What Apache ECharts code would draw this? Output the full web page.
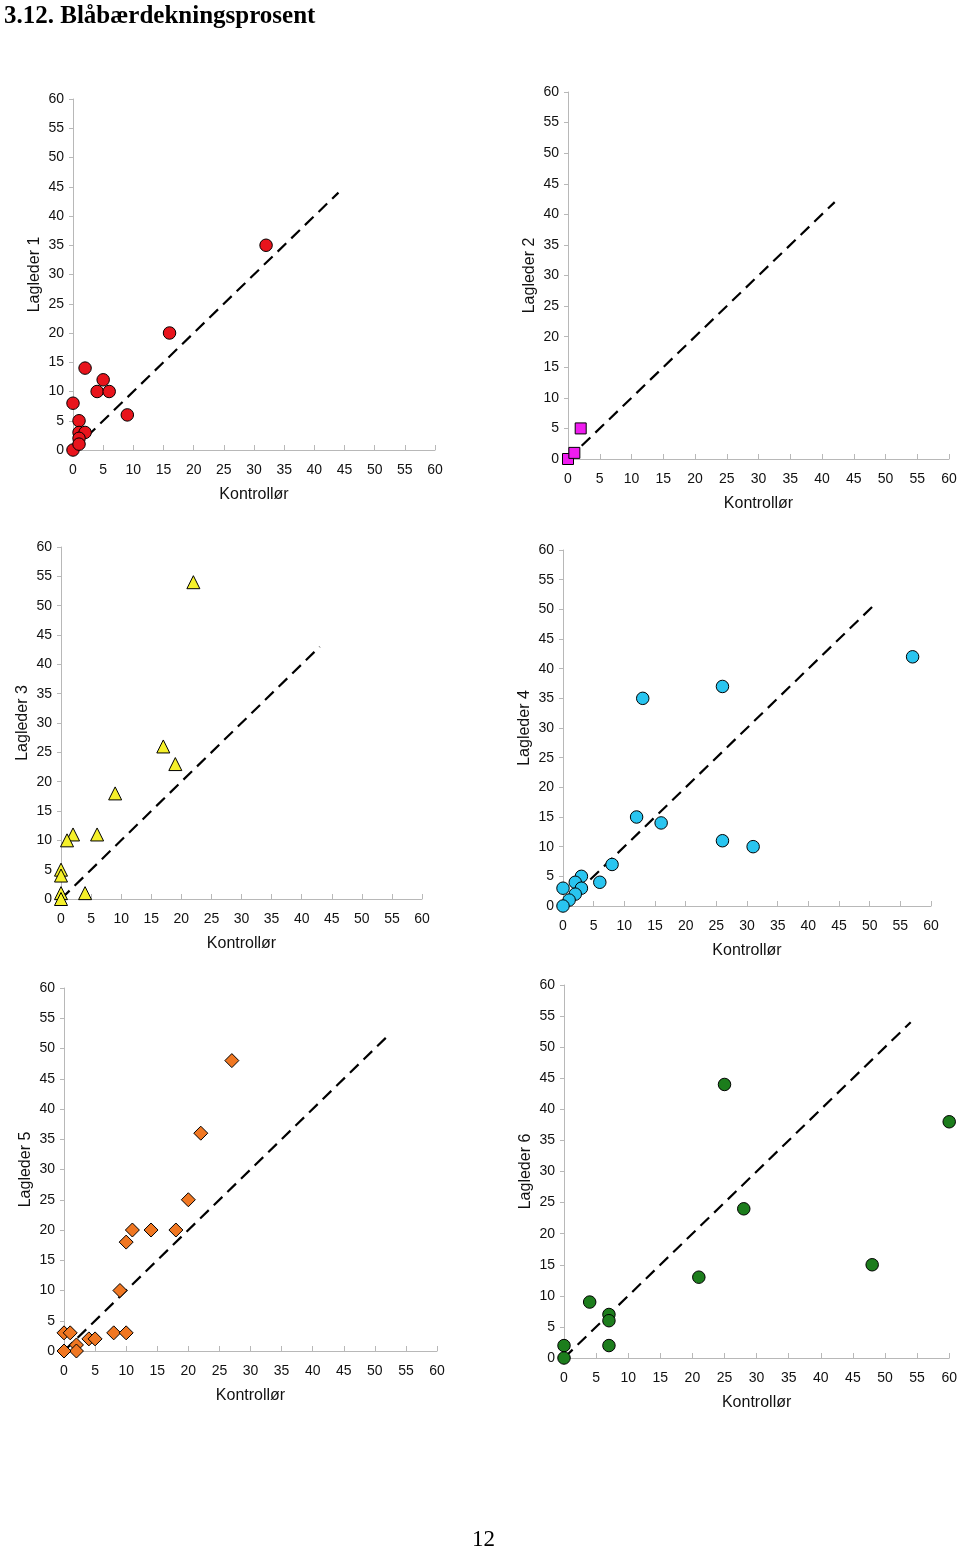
<!DOCTYPE html>
<html>
<head>
<meta charset="utf-8">
<script src="https://cdn.jsdelivr.net/npm/echarts@6/dist/echarts.min.js"></script>
<style>
html,body{margin:0;padding:0;background:#fff;}
#chart{width:960px;height:1549px;}
</style>
</head>
<body>
<div id="chart"></div>
<script>
// ---- data ----
const titleText = '3.12. Blåbærdekningsprosent';
const pageNumber = '12';
const xAxisName = 'Kontrollør';
const yAxisNames = ['Lagleder 1', 'Lagleder 2', 'Lagleder 3', 'Lagleder 4', 'Lagleder 5', 'Lagleder 6'];
const axisMin = 0, axisMax = 60, axisStep = 5;

// [Kontrollør, Lagleder]
const lagleder1 = [[0,0],[0,8],[1,5],[1,3],[2,3],[1,2],[1,1],[2,14],[4,10],[5,12],[6,10],[9,6],[16,20],[32,35]];
const lagleder2 = [[0,0],[1,1],[2,5]];
const lagleder3 = [[22,54],[17,26],[19,23],[9,18],[2,11],[1,10],[6,11],[0,5],[0,4],[0,1],[0,0],[4,1]];
const lagleder4 = [[57,42],[26,37],[13,35],[12,15],[16,14],[26,11],[31,10],[8,7],[6,4],[3,5],[2,4],[3,3],[2,2],[1,1],[0,3],[0,0]];
const lagleder5 = [[27,48],[22,36],[20,25],[18,20],[14,20],[11,20],[10,18],[9,10],[8,3],[10,3],[4,2],[5,2],[2,1],[2,0],[0,3],[1,3],[0,0]];
const lagleder6 = [[60,38],[25,44],[28,24],[21,13],[48,15],[4,9],[7,7],[7,6],[7,2],[0,2],[0,0]];
// end value of the dashed 1:1 line in each panel
const diagonalEnds = [44, 42, 43, 51, 52, 54];

// ---- layout / style ----
const panelData = [lagleder1, lagleder2, lagleder3, lagleder4, lagleder5, lagleder6];
const grids = [
  {left: 73, top: 99, width: 362, height: 351},
  {left: 568, top: 92, width: 381, height: 367},
  {left: 61, top: 547, width: 361, height: 352},
  {left: 563, top: 550, width: 368, height: 356},
  {left: 64, top: 988, width: 373, height: 363},
  {left: 564, top: 985, width: 386, height: 373}
];
const symbols = ['circle', 'rect', 'triangle', 'circle', 'diamond', 'circle'];
const symbolSizes = [12.5, 11, 13, 12.5, 14, 12.5];
const colors = ['#e8141c', '#f01cf0', '#f5f02a', '#29c5f0', '#f07722', '#1c7d1c'];

const font = 'Liberation Sans, Arial, sans-serif';
const xAxes = [], yAxes = [], series = [];
grids.forEach((g, i) => {
  xAxes.push({
    gridIndex: i, type: 'value', min: axisMin, max: axisMax, interval: axisStep,
    name: xAxisName, nameLocation: 'middle', nameGap: 37,
    nameTextStyle: {fontFamily: font, fontSize: 16, color: '#111'},
    axisLine: {show: true, onZero: false, lineStyle: {color: '#b8b8b8', width: 1}},
    axisTick: {show: true, inside: true, length: 5, lineStyle: {color: '#b8b8b8'}},
    axisLabel: {fontFamily: font, fontSize: 14, color: '#111', margin: 13},
    splitLine: {show: false}
  });
  yAxes.push({
    gridIndex: i, type: 'value', min: axisMin, max: axisMax, interval: axisStep,
    name: yAxisNames[i], nameLocation: 'middle', nameGap: 30, nameRotate: 90,
    nameTextStyle: {fontFamily: font, fontSize: 16, color: '#111'},
    axisLine: {show: true, onZero: false, lineStyle: {color: '#b8b8b8', width: 1}},
    axisTick: {show: true, inside: false, length: 4, lineStyle: {color: '#b8b8b8'}},
    axisLabel: {fontFamily: font, fontSize: 14, color: '#111', margin: 9},
    splitLine: {show: false}
  });
  series.push({
    type: 'line', xAxisIndex: i, yAxisIndex: i,
    data: [[0, 0], [diagonalEnds[i], diagonalEnds[i]]],
    symbol: 'none', silent: true, z: 1,
    lineStyle: {color: '#000', width: 2.2, type: [12, 7]}
  });
  series.push({
    type: 'scatter', xAxisIndex: i, yAxisIndex: i,
    data: panelData[i], symbol: symbols[i], symbolSize: symbolSizes[i], z: 3,
    itemStyle: {color: colors[i], borderColor: '#000', borderWidth: 1, opacity: 1}
  });
});

const chart = echarts.init(document.getElementById('chart'), null, {renderer: 'canvas'});
chart.setOption({
  animation: false,
  backgroundColor: '#fff',
  title: [
    {text: titleText, left: 4, top: 4, padding: 0,
     textStyle: {fontFamily: 'Liberation Serif, Times New Roman, serif', fontWeight: 'bold', fontSize: 25, color: '#000'}},
    {text: pageNumber, left: 472, top: 1528, padding: 0,
     textStyle: {fontFamily: 'Liberation Serif, Times New Roman, serif', fontWeight: 'normal', fontSize: 23, color: '#000'}}
  ],
  grid: grids.map(g => Object.assign({containLabel: false}, g)),
  xAxis: xAxes,
  yAxis: yAxes,
  series: series
});
</script>
</body>
</html>
